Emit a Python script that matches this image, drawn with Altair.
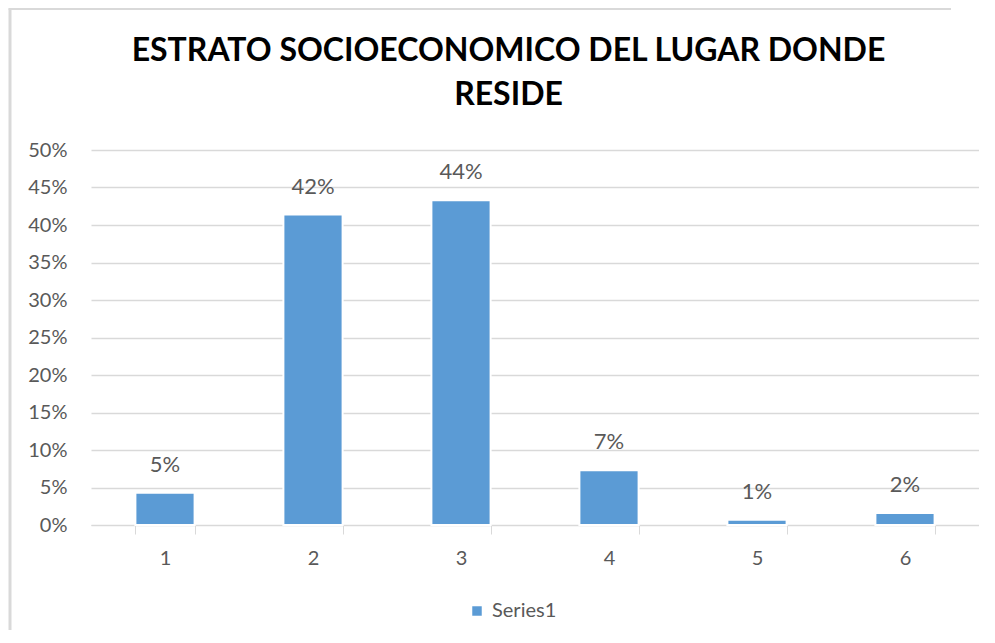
import altair as alt
import pandas as pd

categories = ["1", "2", "3", "4", "5", "6"]
values = [0.043, 0.414, 0.433, 0.073, 0.007, 0.016]
labels = ["5%", "42%", "44%", "7%", "1%", "2%"]
series = ["Series1"] * 6
y_max = 0.5
y_tick_count = 10
title_lines = ["ESTRATO SOCIOECONOMICO DEL LUGAR DONDE", "RESIDE"]

df = pd.DataFrame({"cat": categories, "val": values, "lab": labels, "serie": series})
one = pd.DataFrame({"k": [0]})

FONT = "Lato"
GRAY = "#595959"
GRID = "#d9d9d9"
BLUE = "#5B9BD5"

x_enc = alt.X(
    "cat:N",
    sort=categories,
    scale=alt.Scale(paddingInner=0.6, paddingOuter=0.3),
    axis=alt.Axis(
        title=None, labelAngle=0, tickBand="extent", domainColor=GRID, tickColor=GRID,
        tickSize=9, labelPadding=14, labelFontSize=20, labelColor=GRAY, labelFont=FONT,
        grid=False,
    ),
)
y_enc = alt.Y(
    "val:Q",
    scale=alt.Scale(domain=[0, y_max], nice=False),
    axis=alt.Axis(
        title=None, format=".0%", tickCount=y_tick_count, domain=False, ticks=False,
        tickSize=0, labelPadding=24, labelFontSize=20, labelColor=GRAY, labelFont=FONT,
        labelOverlap=False, gridColor=GRID, gridWidth=1.3,
    ),
)

frame_left = alt.Chart(one).mark_rule(stroke=GRID, strokeWidth=3).encode(
    x=alt.value(-81), y=alt.value(-141.5), y2=alt.value(800)
)
frame_top = alt.Chart(one).mark_rule(stroke=GRID, strokeWidth=3).encode(
    x=alt.value(-82.5), x2=alt.value(860), y=alt.value(-141.5)
)

title = alt.Chart(one).mark_text(
    font=FONT, fontSize=32, fontWeight="bold", color="black", align="center",
    baseline="alphabetic", lineHeight=44,
).encode(x=alt.value(417.5), y=alt.value(-89), text=alt.value(title_lines))

bars = alt.Chart(df).mark_bar(stroke="white", strokeWidth=2).encode(
    x=x_enc,
    y=y_enc,
    color=alt.Color(
        "serie:N",
        scale=alt.Scale(range=[BLUE]),
        legend=alt.Legend(
            title=None, orient="none", legendX=376, legendY=451, symbolType="square",
            symbolSize=90, symbolStrokeWidth=0, labelFontSize=20, labelColor=GRAY,
            labelFont=FONT, symbolOffset=0, labelOffset=5,
        ),
    ),
)

text = alt.Chart(df).mark_text(
    baseline="alphabetic", dy=-21, fontSize=22, color=GRAY, font=FONT
).encode(x=alt.X("cat:N", sort=categories), y=y_enc, text="lab:N")

chart = (
    alt.layer(frame_left, frame_top, title, bars, text)
    .properties(
        width=888,
        height=375,
        autosize=alt.AutoSizeParams(type="none"),
        padding={"left": 83, "top": 142, "right": 0, "bottom": 105},
    )
    .configure_view(stroke=None)
)

chart.save("out.html", embed_options={"renderer": "svg", "actions": False})
